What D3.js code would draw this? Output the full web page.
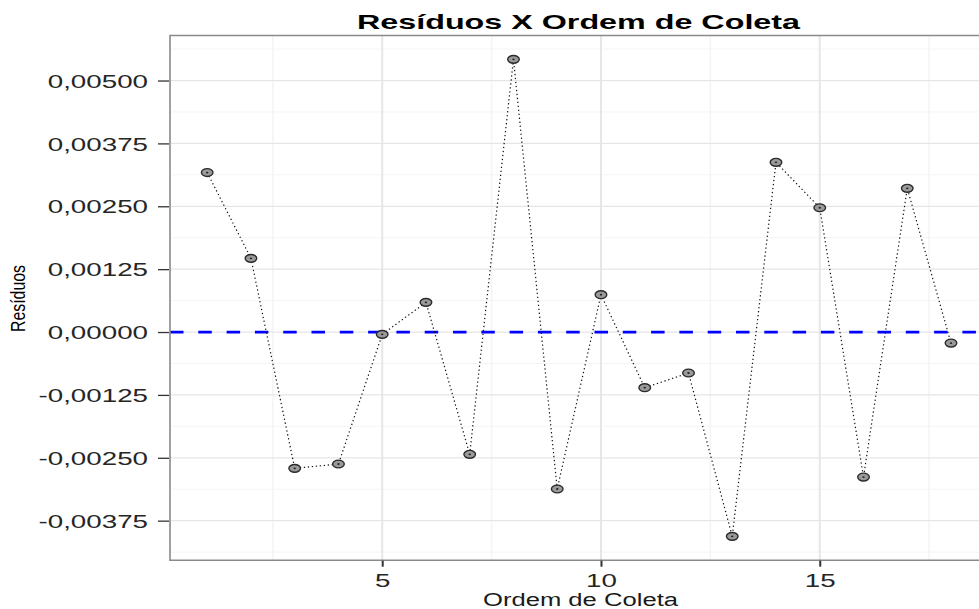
<!DOCTYPE html>
<html>
<head>
<meta charset="utf-8">
<script src="https://cdn.jsdelivr.net/npm/d3@7"></script>
<style>
  body { margin: 0; background: #fff; }
  svg { display: block; font-family: "Liberation Sans", Arial, sans-serif; }
</style>
</head>
<body>
<div id="chart"></div>
<script>
// collection order and residuals
const ordem = [1, 2, 3, 4, 5, 6, 7, 8, 9, 10, 11, 12, 13, 14, 15, 16, 17, 18];
const residuos = [0.003171, 0.001465, -0.002710, -0.002624, -0.000046, 0.000590,
                  -0.002431, 0.005421, -0.003121, 0.000742, -0.001107, -0.000815,
                  -0.004062, 0.003374, 0.002471, -0.002883, 0.002857, -0.000219];
const yTicks = [0.005, 0.00375, 0.0025, 0.00125, 0, -0.00125, -0.0025, -0.00375];
const yMinor = [0.005625, 0.004375, 0.003125, 0.001875, 0.000625, -0.000625,
                -0.001875, -0.003125, -0.004375];
const xTicks = [5, 10, 15];
const xMinor = [2.5, 7.5, 12.5, 17.5];

const W = 979, H = 609;
const SX = 1.5; // the picture is stretched horizontally
const panel = { left: 170, top: 35.5, bottom: 560.2 };

const svg = d3.select('#chart').append('svg')
    .attr('width', W)
    .attr('height', H);

svg.append('rect').attr('width', W).attr('height', H).attr('fill', '#fff');

// ggplot style 5% expansion
const xExt = d3.extent(ordem), yExt = d3.extent(residuos);
const xPad = (xExt[1] - xExt[0]) * 0.05, yPad = (yExt[1] - yExt[0]) * 0.05;

const x = d3.scaleLinear()
    .domain([xExt[0] - xPad, xExt[1] + xPad])
    .range([panel.left, 988.2]);
const y = d3.scaleLinear()
    .domain([yExt[0] - yPad, yExt[1] + yPad])
    .range([panel.bottom, panel.top]);

const right = x.range()[1];

// grid
const grid = svg.append('g');
grid.selectAll('.ymin').data(yMinor).enter().append('line')
    .attr('x1', panel.left).attr('x2', right)
    .attr('y1', d => y(d)).attr('y2', d => y(d))
    .attr('stroke', '#f4f4f4').attr('stroke-width', 1);
grid.selectAll('.xmin').data(xMinor).enter().append('line')
    .attr('x1', d => x(d)).attr('x2', d => x(d))
    .attr('y1', panel.top).attr('y2', panel.bottom)
    .attr('stroke', '#f4f4f4').attr('stroke-width', 1.5);
grid.selectAll('.ymaj').data(yTicks).enter().append('line')
    .attr('x1', panel.left).attr('x2', right)
    .attr('y1', d => y(d)).attr('y2', d => y(d))
    .attr('stroke', '#e6e6e6').attr('stroke-width', 1.2);
grid.selectAll('.xmaj').data(xTicks).enter().append('line')
    .attr('x1', d => x(d)).attr('x2', d => x(d))
    .attr('y1', panel.top).attr('y2', panel.bottom)
    .attr('stroke', '#e6e6e6').attr('stroke-width', 2);

// zero reference line
svg.append('line')
    .attr('x1', panel.left).attr('x2', right)
    .attr('y1', y(0)).attr('y2', y(0))
    .attr('stroke', '#0000ff')
    .attr('stroke-width', 2.7)
    .attr('stroke-dasharray', '13.5,14.8');

// dotted path
const line = d3.line().x((d, i) => x(ordem[i])).y(d => y(d));
svg.append('path')
    .datum(residuos)
    .attr('d', line)
    .attr('fill', 'none')
    .attr('stroke', '#111')
    .attr('stroke-width', 1.2)
    .attr('stroke-dasharray', '1.3,2.7');

// points
const pts = svg.append('g');
pts.selectAll('ellipse.pt').data(residuos).enter().append('ellipse')
    .attr('class', 'pt')
    .attr('cx', (d, i) => x(ordem[i]))
    .attr('cy', d => y(d))
    .attr('rx', 5.8).attr('ry', 3.9)
    .attr('fill', '#9a9a9a')
    .attr('stroke', '#2a2a2a')
    .attr('stroke-width', 1.4);
pts.selectAll('ellipse.ctr').data(residuos).enter().append('ellipse')
    .attr('class', 'ctr')
    .attr('cx', (d, i) => x(ordem[i]))
    .attr('cy', d => y(d))
    .attr('rx', 1.2).attr('ry', 0.9)
    .attr('fill', '#222');

// panel border (left, top, bottom)
svg.append('path')
    .attr('d', `M${right},${panel.top}H${panel.left}V${panel.bottom}H${right}`)
    .attr('fill', 'none')
    .attr('stroke', '#8a8a8a')
    .attr('stroke-width', 1.6);

// y axis
const fmt = d => d3.format('.5f')(d).replace('.', ',').replace('\u2212', '-');
const yAxis = svg.append('g')
    .attr('transform', `translate(${panel.left - 1},0)`)
    .call(d3.axisLeft(y).tickValues(yTicks).tickFormat(fmt).tickSize(11).tickPadding(0));
yAxis.select('.domain').remove();
yAxis.selectAll('.tick line').attr('stroke', '#333').attr('stroke-width', 1.3);
yAxis.selectAll('.tick text')
    .attr('x', -21 / SX)
    .attr('dy', '0.36em')
    .attr('transform', `scale(${SX},1)`)
    .attr('fill', '#262626')
    .style('font-size', '18.5px');

// x axis
const xAxis = svg.append('g')
    .attr('transform', `translate(0,${panel.bottom + 0.5})`)
    .call(d3.axisBottom(x).tickValues(xTicks).tickSize(6).tickPadding(0));
xAxis.select('.domain').remove();
xAxis.selectAll('.tick line').attr('stroke', '#333').attr('stroke-width', 2);
xAxis.selectAll('.tick text')
    .attr('y', 26.5)
    .attr('dy', 0)
    .attr('transform', `scale(${SX},1)`)
    .attr('fill', '#262626')
    .style('font-size', '18.5px');

// titles
svg.append('text')
    .attr('x', 357).attr('y', 29)
    .attr('textLength', 443)
    .attr('lengthAdjust', 'spacingAndGlyphs')
    .style('font-size', '20.5px')
    .style('font-weight', 'bold')
    .attr('fill', '#000')
    .text('Resíduos X Ordem de Coleta');

svg.append('text')
    .attr('x', 483).attr('y', 606)
    .attr('textLength', 195)
    .attr('lengthAdjust', 'spacingAndGlyphs')
    .style('font-size', '18px')
    .attr('fill', '#1a1a1a')
    .text('Ordem de Coleta');

svg.append('text')
    .attr('transform', 'translate(25,298.5) scale(1.25,1) rotate(-90)')
    .attr('text-anchor', 'middle')
    .attr('textLength', 67)
    .attr('lengthAdjust', 'spacingAndGlyphs')
    .style('font-size', '16px')
    .attr('fill', '#000')
    .text('Resíduos');
</script>
</body>
</html>
